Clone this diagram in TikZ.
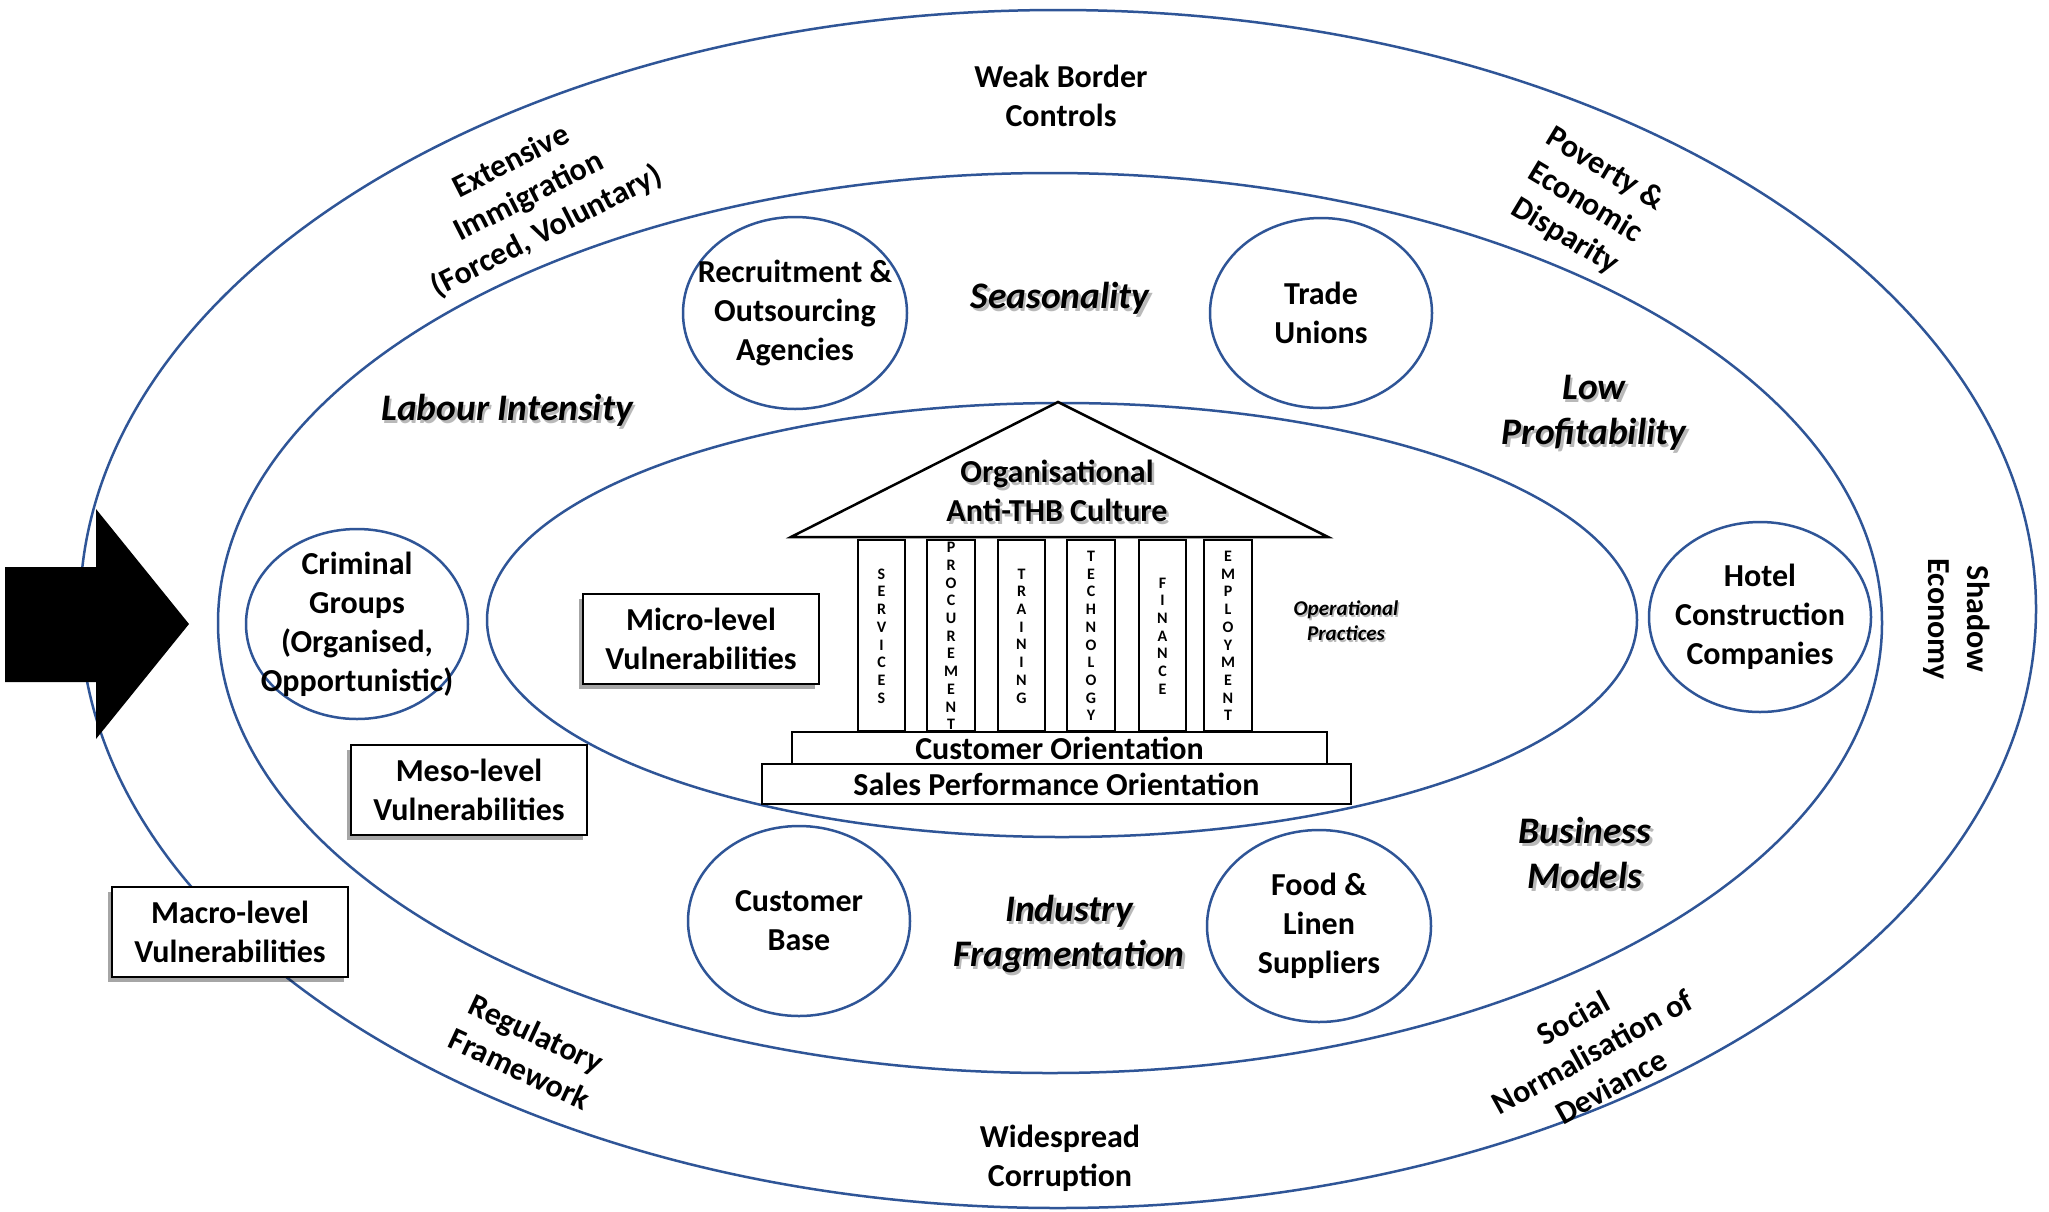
\documentclass[tikz,border=0pt]{standalone}
\usepackage{fontspec}
\setmainfont{Carlito}
\usetikzlibrary{shapes.geometric,shadows}
\definecolor{ringblue}{RGB}{47,85,151}
\newcommand\dgmfont{\fontsize{32}{39}\selectfont\bfseries}
\newcommand\lblfont{\fontsize{37.5}{45}\selectfont\bfseries\itshape}
\newcommand\colfont{\fontsize{16}{17.7}\selectfont\bfseries}
\tikzset{
  ring/.style={draw=ringblue, line width=2.5pt},
  bubble/.style={ellipse, draw=ringblue, line width=2.5pt, inner sep=0pt,
    minimum width=222pt, minimum height=190pt},
  plain/.style={align=center, inner sep=0pt, font=\dgmfont},
  lbl/.style={align=center, inner sep=0pt, font=\lblfont},
  lblsh/.style={lbl, text=black!50, opacity=0.55, xshift=2.5pt, yshift=-3pt},
  vbox/.style={draw=black, line width=2.8pt, fill=white, align=center, inner sep=0pt,
    minimum width=236pt, minimum height=90pt, font=\dgmfont,
    drop shadow={shadow xshift=-4pt, shadow yshift=-5pt, fill=black, opacity=0.35}},
  temple/.style={draw=black, line width=2.5pt, fill=white},
  bar/.style={temple, inner sep=0pt, font=\dgmfont},
  colletters/.style={align=center, inner sep=0pt, font=\colfont},
}
\newcommand\shlabel[4]{%
  \node[lblsh] (#1-sh) at (#2,#3) {#4};
  \node[lbl] (#1) at (#2,#3) {#4};}
\begin{document}
\begin{tikzpicture}[x=1pt,y=-1pt]
\useasboundingbox (0,0) rectangle (2049,1211);
\fill[white] (0,0) rectangle (2049,1211);

% rings
\draw[ring] (1058,609) ellipse [x radius=978pt, y radius=599pt];
\draw[ring] (1050,623) ellipse [x radius=832pt, y radius=450pt];
\draw[ring] (1062,620) ellipse [x radius=575pt, y radius=217pt];

% block arrow
\fill[black] (5,567) -- (96,567) -- (96,509) -- (189,624) -- (96,739) -- (96,682) -- (5,682) -- cycle;

% outer ring texts
\node[plain] (weak) at (1061,96) {Weak Border\\Controls};
\node[plain] (corrupt) at (1060,1158) {Widespread\\Corruption};
\node[plain, rotate=27] (immig) at (529,197) {Extensive\\Immigration\\(Forced, Voluntary)};
\node[plain, rotate=-31] (poverty) at (1585,203) {Poverty \&\\Economic\\Disparity};
\node[plain, rotate=-90] (shadow) at (1957,619) {Shadow\\Economy};
\node[plain, rotate=29] (social) at (1592,1052) {Social\\Normalisation of\\Deviance};
\node[plain, rotate=-25] (regul) at (528,1051) {Regulatory\\Framework};

% middle ring italic labels
\shlabel{seas}{1060}{298}{Seasonality}
\shlabel{labour}{507}{410}{Labour Intensity}
\shlabel{lowprof}{1594}{413}{Low\\Profitability}
\shlabel{busmod}{1585}{853}{Business\\Models}
\shlabel{indfrag}{1069}{934}{Industry\\Fragmentation}

% bubbles
\node[bubble, minimum width=224pt, minimum height=192pt,
  label={[plain]center:Recruitment \&\\Outsourcing\\Agencies}] (recruit) at (795,313) {};
\node[bubble, label={[plain]center:Trade\\Unions}] (trade) at (1321,313) {};
\node[bubble, label={[plain]center:Criminal\\Groups\\(Organised,\\Opportunistic)}] (criminal) at (357,624) {};
\node[bubble, label={[plain]center:Hotel\\Construction\\Companies}] (hotel) at (1760,617) {};
\node[bubble, label={[plain]center:Customer\\Base}] (custbase) at (799,921) {};
\node[bubble, minimum width=224pt, minimum height=192pt,
  label={[plain]center:Food \&\\Linen\\Suppliers}] (food) at (1319,926) {};

% vulnerability boxes
\node[vbox] (micro) at (701,639) {Micro-level\\Vulnerabilities};
\node[vbox] (meso) at (469,790) {Meso-level\\Vulnerabilities};
\node[vbox] (macro) at (230,932) {Macro-level\\Vulnerabilities};

% temple
\draw[temple] (791,537) -- (1058,402) -- (1328,537) -- cycle;
\foreach \a/\b in {858/905, 927/975, 998/1045, 1067/1115, 1139/1186, 1204/1252}
  \draw[temple] (\a,540) rectangle (\b,731);
\node[lblsh, font=\dgmfont] (orgcult-sh) at (1057,491) {Organisational\\Anti-THB Culture};
\node[plain] (orgcult) at (1057,491) {Organisational\\Anti-THB Culture};
\node[colletters] (col1) at (881.5,636) {S\\E\\R\\V\\I\\C\\E\\S};
\node[colletters] (col2) at (951,636) {P\\R\\O\\C\\U\\R\\E\\M\\E\\N\\T};
\node[colletters] (col3) at (1021.5,636) {T\\R\\A\\I\\N\\I\\N\\G};
\node[colletters] (col4) at (1091,636) {T\\E\\C\\H\\N\\O\\L\\O\\G\\Y};
\node[colletters] (col5) at (1162.5,636) {F\\I\\N\\A\\N\\C\\E};
\node[colletters] (col6) at (1228,636) {E\\M\\P\\L\\O\\Y\\M\\E\\N\\T};
\node[bar, minimum width=535pt, minimum height=32pt] (custor) at (1059.5,748) {Customer Orientation};
\node[bar, minimum width=589pt, minimum height=40pt] (salesor) at (1056.5,784) {Sales Performance Orientation};
\node[lblsh, font=\fontsize{21}{25}\selectfont\bfseries\itshape, xshift=-1pt, yshift=1.5pt] (oper-sh) at (1346,621) {Operational\\Practices};
\node[lbl, font=\fontsize{21}{25}\selectfont\bfseries\itshape] (oper) at (1346,621) {Operational\\Practices};
\end{tikzpicture}
\end{document}
